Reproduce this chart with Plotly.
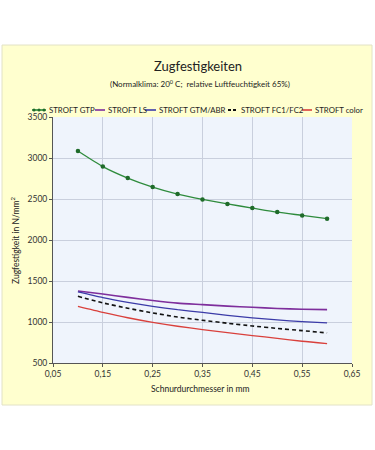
import plotly.graph_objects as go

# ---- data ----
diameter = [0.10, 0.15, 0.20, 0.25, 0.30, 0.35, 0.40, 0.45, 0.50, 0.55, 0.60]
gtp = [3085, 2895, 2755, 2645, 2560, 2495, 2440, 2390, 2340, 2300, 2260]
ls = [1379, 1342, 1300, 1262, 1230, 1212, 1193, 1179, 1165, 1155, 1151]
gtm_abr = [1366, 1297, 1240, 1191, 1150, 1118, 1082, 1050, 1025, 1005, 989]
fc1_fc2 = [1313, 1233, 1168, 1111, 1060, 1021, 985, 952, 922, 895, 867]
color = [1191, 1118, 1052, 996, 948, 908, 870, 835, 800, 765, 737]

series_names = ["STROFT GTP", "STROFT LS", "STROFT GTM/ABR", "STROFT FC1/FC2", "STROFT color"]
x_tickvals = [0.05, 0.15, 0.25, 0.35, 0.45, 0.55, 0.65]
x_ticktext = ["0,05", "0,15", "0,25", "0,35", "0,45", "0,55", "0,65"]
y_tickvals = [500, 1000, 1500, 2000, 2500, 3000, 3500]

FONT = "Lato, 'Open Sans', sans-serif"
W, H = 375, 450
L, R, T, B = 53, 23, 117, 87
PW, PH = W - L - R, H - T - B


def px(x):
    return (x - L) / PW


def py(y):
    return (H - B - y) / PH


styles = [
    dict(color="#2E8B3C", width=1.3, dash="solid"),
    dict(color="#7E2E9C", width=1.6, dash="solid"),
    dict(color="#3B3BA8", width=1.3, dash="solid"),
    dict(color="#111111", width=1.6, dash="4px,3px"),
    dict(color="#D9403C", width=1.3, dash="solid"),
]
values = [gtp, ls, gtm_abr, fc1_fc2, color]

fig = go.Figure()
for i, (name, vals, st) in enumerate(zip(series_names, values, styles)):
    fig.add_trace(go.Scatter(
        x=diameter, y=vals, name=name,
        mode="lines+markers" if i == 0 else "lines",
        line=dict(color=st["color"], width=st["width"], dash=st["dash"], shape="spline", smoothing=0.6),
        marker=dict(size=4.5, color="#1F6B2A") if i == 0 else None,
        showlegend=False,
    ))

shapes = [
    # chart panel
    dict(type="rect", xref="paper", yref="paper", x0=px(2), x1=px(372), y0=py(405), y1=py(45),
         fillcolor="#FFFFCF", line=dict(color="#E2E2C6", width=1), layer="below"),
    # plot area
    dict(type="rect", xref="paper", yref="paper", x0=0, x1=1, y0=0, y1=1,
         fillcolor="#EFF4FC", line=dict(width=0), layer="below"),
]

# manual one-row legend (symbol positions follow the reference)
legend_y = 110
legend_items = [(32, 46, 47), (95, 105, 106), (145, 156, 157), (228, 238, 239), (302, 312, 313)]
annotations = []
for (s0, s1, tx), name, st in zip(legend_items, series_names, styles):
    shapes.append(dict(type="line", xref="paper", yref="paper",
                       x0=px(s0), x1=px(s1), y0=py(legend_y), y1=py(legend_y),
                       line=dict(color=st["color"], width=1.6 if st["dash"] == "solid" else 1.8,
                                 dash="solid" if st["dash"] == "solid" else "3px,2px")))
    annotations.append(dict(text=name, xref="paper", yref="paper", x=px(tx), y=py(legend_y),
                            xanchor="left", yanchor="middle", showarrow=False,
                            font=dict(family=FONT, size=7.8, color="#222222")))
# markers on GTP legend symbol
for xm in (34, 39, 44):
    shapes.append(dict(type="circle", xref="paper", yref="paper",
                       x0=px(xm - 1.5), x1=px(xm + 1.5), y0=py(legend_y + 1.5), y1=py(legend_y - 1.5),
                       fillcolor="#1F6B2A", line=dict(width=0)))

annotations += [
    dict(text="Zugfestigkeiten", xref="paper", yref="paper", x=px(198), y=py(66),
         xanchor="center", yanchor="middle", showarrow=False,
         font=dict(family=FONT, size=13, color="#222222")),
    dict(text="(Normalklima: 20<sup>0</sup> C;&nbsp; relative Luftfeuchtigkeit 65%)",
         xref="paper", yref="paper", x=px(200), y=py(83),
         xanchor="center", yanchor="middle", showarrow=False,
         font=dict(family=FONT, size=8, color="#222222")),
    dict(text="Zugfestigkeit in N/mm<sup>2</sup>", xref="paper", yref="paper", x=px(15), y=py(240),
         xanchor="center", yanchor="middle", textangle=-90, showarrow=False,
         font=dict(family=FONT, size=8.5, color="#222222")),
    dict(text="Schnurdurchmesser in mm", xref="paper", yref="paper", x=px(200), y=py(389),
         xanchor="center", yanchor="middle", showarrow=False,
         font=dict(family=FONT, size=8.5, color="#222222")),
]

fig.update_layout(
    width=W, height=H,
    margin=dict(l=L, r=R, t=T, b=B, pad=0),
    paper_bgcolor="white",
    plot_bgcolor="rgba(0,0,0,0)",
    font=dict(family=FONT, size=8.5, color="#333333"),
    shapes=shapes,
    annotations=annotations,
    showlegend=False,
)
fig.update_xaxes(
    range=[0.05, 0.65], tickvals=x_tickvals, ticktext=x_ticktext,
    showgrid=True, gridcolor="#C9CFDD", gridwidth=1,
    showline=True, linecolor="#555555", linewidth=1,
    ticks="outside", ticklen=3, tickcolor="#555555",
    tickfont=dict(family=FONT, size=8.5, color="#333333"),
    zeroline=False, fixedrange=True,
)
fig.update_yaxes(
    range=[500, 3500], tickvals=y_tickvals,
    showgrid=True, gridcolor="#C9CFDD", gridwidth=1,
    showline=True, linecolor="#555555", linewidth=1,
    ticks="outside", ticklen=3, tickcolor="#555555",
    tickfont=dict(family=FONT, size=8.5, color="#333333"),
    zeroline=False, fixedrange=True,
)

fig.write_html(
    "out.html",
    config={"displayModeBar": False},
    post_script="document.body.style.margin='0';document.body.style.padding='0';",
)
